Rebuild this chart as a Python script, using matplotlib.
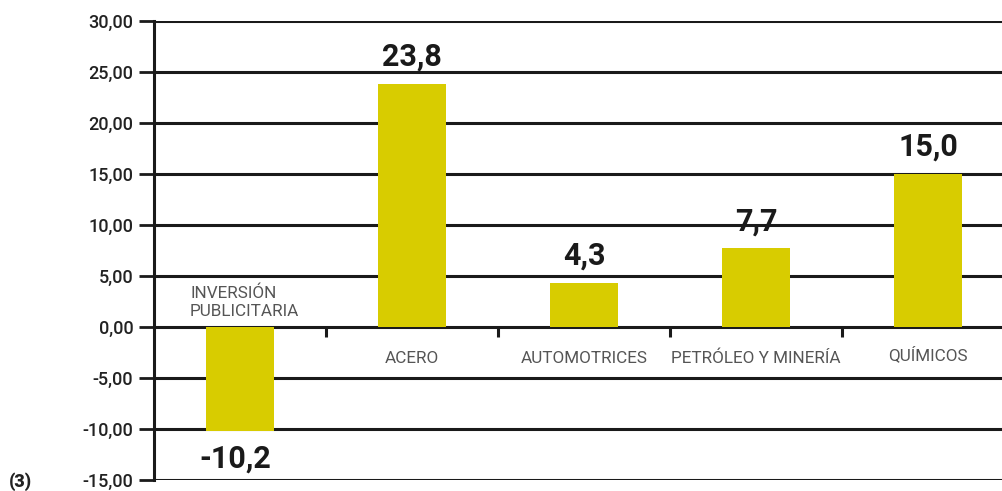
import unicodedata
import numpy as np
import matplotlib.pyplot as plt
from matplotlib.transforms import offset_copy

# DATA ------------------------------------------------
categorias = ['INVERSIÓN\nPUBLICITARIA', 'ACERO', 'AUTOMOTRICES',
              'PETRÓLEO Y MINERÍA', 'QU\u00cdMICOS']
valores = [-10.2, 23.8, 4.3, 7.7, 15.0]
etiquetas = ['-10,2', '23,8', '4,3', '7,7', '15,0']
yticks = [-15, -10, -5, 0, 5, 10, 15, 20, 25, 30]

categorias = [unicodedata.normalize('NFC', c) for c in categorias]

amarillo = '#d8cc00'
plt.rcParams['font.family'] = ['Roboto', 'DejaVu Sans']

fig = plt.figure(figsize=(10.03, 4.91), dpi=100)
ax = fig.add_axes([154 / 1003, 11 / 491, 860 / 1003, 459 / 491])

x = np.arange(len(valores))
ax.bar(x, valores, width=0.4, color=amarillo, zorder=3)

# grid lines
for yv in yticks:
    ax.axhline(yv, color='#1a1a1a', lw=2.2, zorder=2)

ax.set_xlim(-0.5, len(valores) - 0.5)
ax.set_ylim(-15, 30)
ax.set_yticks(yticks)
ax.set_yticklabels([f'{v:.2f}'.replace('.', ',') for v in yticks],
                   fontsize=13, fontweight='medium', color='#222222')
ax.tick_params(axis='y', length=11, width=2, color='#1a1a1a', pad=4)
ax.set_xticks([])

for s in ['top', 'right', 'bottom']:
    ax.spines[s].set_visible(False)
ax.spines['left'].set_linewidth(2.2)
ax.spines['left'].set_color('#1a1a1a')

# category separators below zero line
for b in np.arange(0.5, len(valores) - 1, 1):
    ax.plot([b, b], [0, -1.0], color='#1a1a1a', lw=2.2, zorder=2,
            solid_capstyle='butt')

# labels
for i, (v, lab, cat) in enumerate(zip(valores, etiquetas, categorias)):
    if v >= 0:
        ax.text(i, v + 1.2, lab, ha='center', va='bottom', fontsize=22,
                fontweight='bold', color='#1a1a1a')
        # Q tail pushes the word down in Agg, nudge it back up
        tr = ax.transData
        if 'Q' in cat:
            tr = offset_copy(ax.transData, fig=fig, y=3, units='dots')
        ax.text(i, -3.55, cat, ha='center', va='baseline', fontsize=12.3,
                color='#555555', family='Roboto', transform=tr)
    else:
        ax.text(i - 0.03, v - 1.2, lab, ha='center', va='top', fontsize=22,
                fontweight='bold', color='#1a1a1a')
        ax.text(i - 0.29, 0.8, cat, ha='left', va='bottom', fontsize=12.3,
                color='#555555', linespacing=1.25, family='Roboto')

fig.text(9 / 1003, 4 / 491, '(3)', fontsize=13, fontweight='heavy',
         color='#222222', ha='left', va='baseline')

fig.savefig('out.png', dpi=100)
